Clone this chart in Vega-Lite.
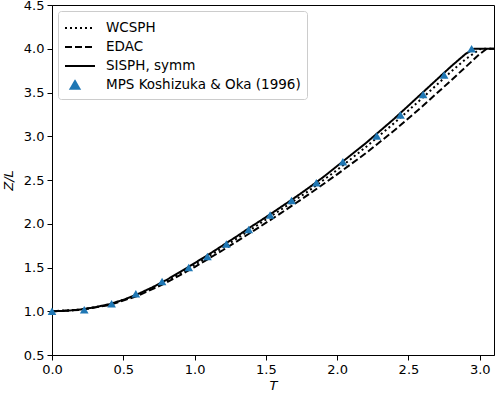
{
  "$schema": "https://vega.github.io/schema/vega-lite/v6.json",
  "width": 442,
  "height": 350,
  "autosize": "none",
  "padding": {"left": 52, "top": 5, "right": 4, "bottom": 44},
  "background": "white",
  "config": {
    "font": "DejaVu Sans",
    "view": {"stroke": "black", "strokeWidth": 1},
    "axis": {
      "grid": false,
      "domainColor": "black",
      "tickColor": "black",
      "tickSize": 5,
      "labelFontSize": 13,
      "labelColor": "black",
      "labelFont": "DejaVu Sans",
      "titleFont": "DejaVu Sans",
      "titleFontSize": 13,
      "titleFontStyle": "italic",
      "titleFontWeight": "normal",
      "titleColor": "black",
      "labelPadding": 3,
      "labelFlush": false
    },
    "legend": {
      "labelFont": "DejaVu Sans",
      "labelFontSize": 13.5,
      "labelColor": "black"
    }
  },
  "datasets": {
    "lines": [
      {"series": "WCSPH", "T": 0.0, "Z": 1.0},
      {"series": "WCSPH", "T": 0.2, "Z": 1.018},
      {"series": "WCSPH", "T": 0.4, "Z": 1.075},
      {"series": "WCSPH", "T": 0.6, "Z": 1.185},
      {"series": "WCSPH", "T": 0.8, "Z": 1.34},
      {"series": "WCSPH", "T": 1.0, "Z": 1.53},
      {"series": "WCSPH", "T": 1.2, "Z": 1.73},
      {"series": "WCSPH", "T": 1.4, "Z": 1.94},
      {"series": "WCSPH", "T": 1.6, "Z": 2.155},
      {"series": "WCSPH", "T": 1.8, "Z": 2.375},
      {"series": "WCSPH", "T": 2.0, "Z": 2.615},
      {"series": "WCSPH", "T": 2.2, "Z": 2.875},
      {"series": "WCSPH", "T": 2.4, "Z": 3.15},
      {"series": "WCSPH", "T": 2.6, "Z": 3.44},
      {"series": "WCSPH", "T": 2.8, "Z": 3.74},
      {"series": "WCSPH", "T": 2.9, "Z": 3.88},
      {"series": "WCSPH", "T": 3.0, "Z": 3.995},
      {"series": "WCSPH", "T": 3.02, "Z": 4.0},
      {"series": "WCSPH", "T": 3.1, "Z": 4.0},
      {"series": "EDAC", "T": 0.0, "Z": 1.0},
      {"series": "EDAC", "T": 0.2, "Z": 1.015},
      {"series": "EDAC", "T": 0.4, "Z": 1.07},
      {"series": "EDAC", "T": 0.6, "Z": 1.175},
      {"series": "EDAC", "T": 0.8, "Z": 1.325},
      {"series": "EDAC", "T": 1.0, "Z": 1.505},
      {"series": "EDAC", "T": 1.2, "Z": 1.7},
      {"series": "EDAC", "T": 1.4, "Z": 1.905},
      {"series": "EDAC", "T": 1.6, "Z": 2.115},
      {"series": "EDAC", "T": 1.8, "Z": 2.335},
      {"series": "EDAC", "T": 2.0, "Z": 2.565},
      {"series": "EDAC", "T": 2.2, "Z": 2.805},
      {"series": "EDAC", "T": 2.4, "Z": 3.065},
      {"series": "EDAC", "T": 2.6, "Z": 3.345},
      {"series": "EDAC", "T": 2.8, "Z": 3.64},
      {"series": "EDAC", "T": 2.9, "Z": 3.79},
      {"series": "EDAC", "T": 3.0, "Z": 3.94},
      {"series": "EDAC", "T": 3.05, "Z": 4.0},
      {"series": "EDAC", "T": 3.1, "Z": 4.0},
      {"series": "SISPH, symm", "T": 0.0, "Z": 1.0},
      {"series": "SISPH, symm", "T": 0.1, "Z": 1.005},
      {"series": "SISPH, symm", "T": 0.2, "Z": 1.02},
      {"series": "SISPH, symm", "T": 0.3, "Z": 1.045},
      {"series": "SISPH, symm", "T": 0.4, "Z": 1.08},
      {"series": "SISPH, symm", "T": 0.5, "Z": 1.13},
      {"series": "SISPH, symm", "T": 0.6, "Z": 1.195},
      {"series": "SISPH, symm", "T": 0.7, "Z": 1.27},
      {"series": "SISPH, symm", "T": 0.8, "Z": 1.355},
      {"series": "SISPH, symm", "T": 0.9, "Z": 1.45},
      {"series": "SISPH, symm", "T": 1.0, "Z": 1.55},
      {"series": "SISPH, symm", "T": 1.1, "Z": 1.65},
      {"series": "SISPH, symm", "T": 1.2, "Z": 1.755},
      {"series": "SISPH, symm", "T": 1.3, "Z": 1.86},
      {"series": "SISPH, symm", "T": 1.4, "Z": 1.97},
      {"series": "SISPH, symm", "T": 1.5, "Z": 2.075},
      {"series": "SISPH, symm", "T": 1.6, "Z": 2.185},
      {"series": "SISPH, symm", "T": 1.7, "Z": 2.295},
      {"series": "SISPH, symm", "T": 1.8, "Z": 2.41},
      {"series": "SISPH, symm", "T": 1.9, "Z": 2.53},
      {"series": "SISPH, symm", "T": 2.0, "Z": 2.66},
      {"series": "SISPH, symm", "T": 2.1, "Z": 2.79},
      {"series": "SISPH, symm", "T": 2.2, "Z": 2.92},
      {"series": "SISPH, symm", "T": 2.3, "Z": 3.06},
      {"series": "SISPH, symm", "T": 2.4, "Z": 3.2},
      {"series": "SISPH, symm", "T": 2.5, "Z": 3.35},
      {"series": "SISPH, symm", "T": 2.6, "Z": 3.5},
      {"series": "SISPH, symm", "T": 2.7, "Z": 3.65},
      {"series": "SISPH, symm", "T": 2.8, "Z": 3.8},
      {"series": "SISPH, symm", "T": 2.9, "Z": 3.94},
      {"series": "SISPH, symm", "T": 2.96, "Z": 4.0},
      {"series": "SISPH, symm", "T": 3.1, "Z": 4.0}
    ],
    "mps": [
      {"series": "MPS Koshizuka & Oka (1996)", "T": 0.0, "Z": 1.0},
      {"series": "MPS Koshizuka & Oka (1996)", "T": 0.226, "Z": 1.016},
      {"series": "MPS Koshizuka & Oka (1996)", "T": 0.418, "Z": 1.085},
      {"series": "MPS Koshizuka & Oka (1996)", "T": 0.588, "Z": 1.2},
      {"series": "MPS Koshizuka & Oka (1996)", "T": 0.772, "Z": 1.34},
      {"series": "MPS Koshizuka & Oka (1996)", "T": 0.959, "Z": 1.5},
      {"series": "MPS Koshizuka & Oka (1996)", "T": 1.09, "Z": 1.627},
      {"series": "MPS Koshizuka & Oka (1996)", "T": 1.223, "Z": 1.77},
      {"series": "MPS Koshizuka & Oka (1996)", "T": 1.38, "Z": 1.934},
      {"series": "MPS Koshizuka & Oka (1996)", "T": 1.53, "Z": 2.1},
      {"series": "MPS Koshizuka & Oka (1996)", "T": 1.68, "Z": 2.266},
      {"series": "MPS Koshizuka & Oka (1996)", "T": 1.854, "Z": 2.469},
      {"series": "MPS Koshizuka & Oka (1996)", "T": 2.04, "Z": 2.708},
      {"series": "MPS Koshizuka & Oka (1996)", "T": 2.278, "Z": 3.003},
      {"series": "MPS Koshizuka & Oka (1996)", "T": 2.444, "Z": 3.244},
      {"series": "MPS Koshizuka & Oka (1996)", "T": 2.603, "Z": 3.478},
      {"series": "MPS Koshizuka & Oka (1996)", "T": 2.75, "Z": 3.7},
      {"series": "MPS Koshizuka & Oka (1996)", "T": 2.943, "Z": 4.0}
    ]
  },
  "layer": [
    {
      "data": {"name": "lines"},
      "mark": {"type": "line", "strokeWidth": 2, "clip": true},
      "encoding": {
        "x": {"field": "T", "type": "quantitative"},
        "y": {"field": "Z", "type": "quantitative"},
        "detail": {"field": "series"},
        "color": {"field": "series", "type": "nominal"},
        "strokeDash": {
          "field": "series", "type": "nominal", "legend": null,
          "scale": {"domain": ["WCSPH", "EDAC", "SISPH, symm"], "range": [[2, 3], [7, 3], [1, 0]]}
        }
      }
    },
    {
      "data": {"name": "mps"},
      "mark": {"type": "point", "shape": "triangle-up", "filled": true, "opacity": 1, "size": 75},
      "encoding": {
        "x": {"field": "T", "type": "quantitative"},
        "y": {"field": "Z", "type": "quantitative"},
        "color": {"field": "series", "type": "nominal"}
      }
    }
  ],
  "resolve": {"scale": {"strokeDash": "independent"}},
  "encoding": {
    "x": {
      "field": "T", "type": "quantitative", "title": "T",
      "scale": {"domain": [0, 3.1], "nice": false, "zero": false},
      "axis": {"values": [0, 0.5, 1, 1.5, 2, 2.5, 3], "format": ".1f", "titlePadding": 3}
    },
    "y": {
      "field": "Z", "type": "quantitative", "title": "Z/L",
      "scale": {"domain": [0.5, 4.5], "nice": false, "zero": false},
      "axis": {"values": [0.5, 1, 1.5, 2, 2.5, 3, 3.5, 4, 4.5], "format": ".1f", "titlePadding": 8}
    },
    "color": {
      "field": "series", "type": "nominal",
      "scale": {
        "domain": ["WCSPH", "EDAC", "SISPH, symm", "MPS Koshizuka & Oka (1996)"],
        "range": ["black", "black", "black", "#1f77b4"]
      },
      "legend": {
        "title": null,
        "orient": "top-left",
        "offset": 6,
        "padding": 6,
        "strokeColor": "#cccccc",
        "fillColor": "white",
        "cornerRadius": 3,
        "symbolSize": 400,
        "symbolType": "stroke",
        "labelOffset": 20,
        "labelLimit": 0,
        "rowPadding": 1,
        "encode": {
          "symbols": {
            "update": {
              "shape": {"signal": "datum.value === 'MPS Koshizuka & Oka (1996)' ? 'triangle-up' : 'M-1,0H2'"},
              "size": {"signal": "datum.value === 'MPS Koshizuka & Oka (1996)' ? 80 : 400"},
              "fill": {"signal": "datum.value === 'MPS Koshizuka & Oka (1996)' ? '#1f77b4' : 'transparent'"},
              "stroke": {"signal": "datum.value === 'MPS Koshizuka & Oka (1996)' ? 'transparent' : 'black'"},
              "strokeDash": {"signal": "datum.value === 'WCSPH' ? [2, 3] : datum.value === 'EDAC' ? [7, 3] : [1, 0]"},
              "strokeWidth": {"value": 2},
              "opacity": {"value": 1}
            }
          }
        }
      }
    }
  }
}
